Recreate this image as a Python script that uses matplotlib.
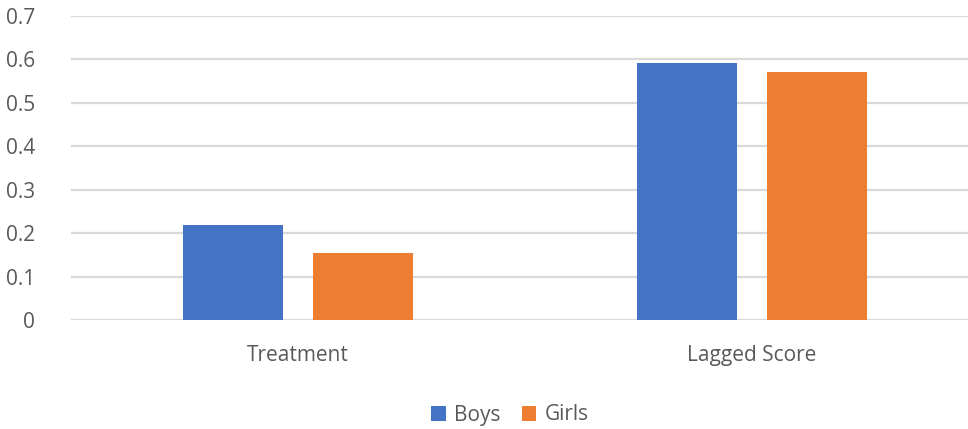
import matplotlib.pyplot as plt
import numpy as np

categories = ['Treatment', 'Lagged Score']
boys = [0.219, 0.592]
girls = [0.154, 0.572]

BLUE = '#4472C4'
ORANGE = '#ED7D31'
TEXT = '#595959'
GRID = '#D9D9D9'

plt.rcParams['font.family'] = ['Open Sans', 'DejaVu Sans']

fig = plt.figure(figsize=(9.68, 4.29), dpi=100)
ax = fig.add_axes([71 / 968, 1 - 320 / 429, (968 - 71) / 968, (320 - 16) / 429])

x = np.arange(len(categories))
w = 0.222
ax.bar(x - 0.143, boys, w, color=BLUE, label='Boys', zorder=3)
ax.bar(x + 0.143, girls, w, color=ORANGE, label='Girls', zorder=3)

ax.set_xlim(-0.5, (968 - 71) / 454 - 0.5)
ax.set_ylim(0, 0.7)
ax.set_yticks(np.arange(0, 0.71, 0.1))
ax.set_yticklabels(['0'] + [f'{v:.1f}' for v in np.arange(0.1, 0.71, 0.1)])
ax.set_xticks(x)
ax.set_xticklabels(categories)

ax.grid(axis='y', color=GRID, linewidth=1.6, zorder=0)
for s in ax.spines.values():
    s.set_visible(False)
ax.tick_params(axis='both', length=0, labelsize=15, colors=TEXT)
ax.tick_params(axis='y', pad=26)
ax.tick_params(axis='x', pad=18)
for lbl in ax.get_yticklabels():
    lbl.set_horizontalalignment('right')

fig.legend(loc='center', bbox_to_anchor=(510 / 968, 1 - 415 / 429), ncol=2,
           frameon=False, fontsize=15, labelcolor=TEXT,
           handlelength=0.7, handleheight=0.7, handletextpad=0.4, columnspacing=1.0)

fig.savefig('out.png', dpi=100)
